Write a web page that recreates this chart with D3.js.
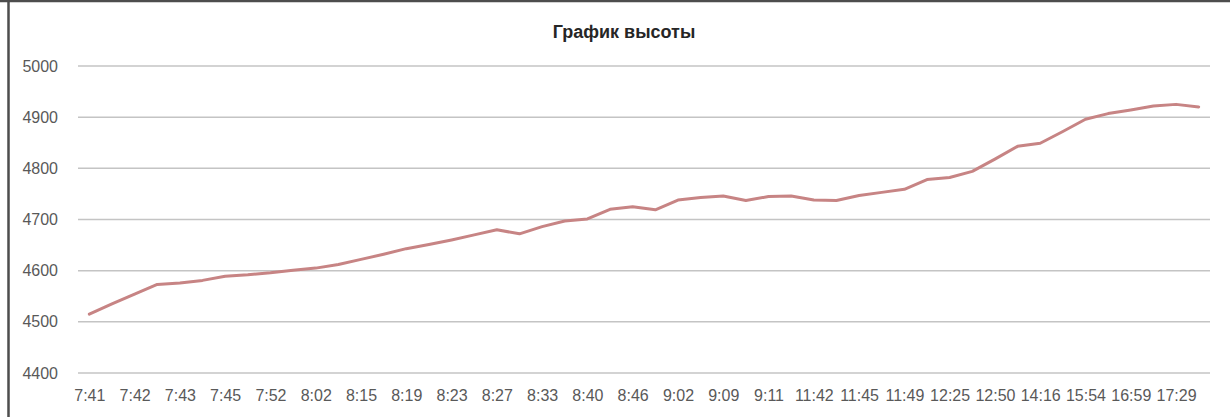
<!DOCTYPE html>
<html>
<head>
<meta charset="utf-8">
<script src="https://cdn.jsdelivr.net/npm/d3@7"></script>
<style>
  body { margin: 0; background: #fff; }
  svg text { font-family: "Liberation Sans", Arial, sans-serif; }
</style>
</head>
<body>
<div id="chart"></div>
<script>
// ---- data ----
// labels shown on the x axis (every second measurement is labelled)
let timeLabels = ["7:41", "7:42", "7:43", "7:45", "7:52", "8:02", "8:15", "8:19", "8:23",
    "8:27", "8:33", "8:40", "8:46", "9:02", "9:09", "9:11", "11:42", "11:45", "11:49",
    "12:25", "12:50", "14:16", "15:54", "16:59", "17:29"];

// height readings, one per measurement
let heights = [4515, 4535, 4554, 4573, 4576, 4581, 4589, 4592, 4596, 4601,
    4605, 4612, 4622, 4632, 4643, 4651, 4660, 4670, 4680, 4672,
    4686, 4697, 4701, 4720, 4725, 4719, 4738, 4743, 4746, 4737,
    4745, 4746, 4738, 4737, 4747, 4753, 4759, 4778, 4782, 4794,
    4818, 4843, 4849, 4872, 4896, 4907, 4914, 4922, 4925, 4920];

let yTicks = [4400, 4500, 4600, 4700, 4800, 4900, 5000];

// ---- svg ----
let width = 1230, height = 417;
let margin = { top: 66, right: 20, bottom: 44, left: 78 };

let svg = d3.select("#chart").append("svg")
    .attr("width", width).attr("height", height);

// chart frame (left + top edges visible in the screenshot)
svg.append("line").attr("x1", 8.5).attr("x2", 8.5).attr("y1", 0).attr("y2", height)
    .attr("stroke", "#4d4d4d").attr("stroke-width", 2.5);
svg.append("line").attr("x1", 0).attr("x2", width).attr("y1", 1).attr("y2", 1)
    .attr("stroke", "#4d4d4d").attr("stroke-width", 2.5);

// scales
let idx = d3.range(heights.length);
let x = d3.scalePoint()
    .domain(idx)
    .range([margin.left, 1210])
    .padding(0.5);

let y = d3.scaleLinear()
    .domain([4400, 5000])
    .range([373, margin.top]);

// gridlines
svg.append("g")
    .selectAll("line")
    .data(yTicks)
    .enter()
    .append("line")
    .attr("x1", margin.left)
    .attr("x2", 1210)
    .attr("y1", d => y(d))
    .attr("y2", d => y(d))
    .attr("stroke", "#c4c4c4")
    .attr("stroke-width", 1.5);

// y axis
let yAxis = d3.axisLeft(y).tickValues(yTicks).tickSize(0).tickPadding(20).tickFormat(d3.format("d"));
let yG = svg.append("g")
    .attr("transform", `translate(${margin.left}, 0)`)
    .call(yAxis);
yG.select(".domain").remove();
yG.selectAll("text")
    .attr("font-size", 16)
    .attr("fill", "#595959")
    .style("font-family", "'Liberation Sans', Arial, sans-serif");

// x axis
let xAxis = d3.axisBottom(x)
    .tickValues(idx.filter(i => i % 2 == 0))
    .tickFormat(i => timeLabels[i / 2])
    .tickSize(0)
    .tickPadding(17);
let xG = svg.append("g")
    .attr("transform", `translate(0, ${y(4400)})`)
    .call(xAxis);
xG.select(".domain").remove();
xG.selectAll("text")
    .attr("font-size", 16)
    .attr("fill", "#595959")
    .style("font-family", "'Liberation Sans', Arial, sans-serif");

// line
let line = d3.line()
    .x((d, i) => x(i))
    .y(d => y(d));

svg.append("path")
    .datum(heights)
    .attr("d", line)
    .attr("fill", "none")
    .attr("stroke", "#c78484")
    .attr("stroke-width", 3)
    .attr("stroke-linejoin", "round")
    .attr("stroke-linecap", "round");

// title
svg.append("text")
    .attr("x", 624)
    .attr("y", 38)
    .attr("text-anchor", "middle")
    .attr("font-size", 18)
    .attr("font-weight", "bold")
    .attr("fill", "#262626")
    .text("График высоты");
</script>
</body>
</html>
